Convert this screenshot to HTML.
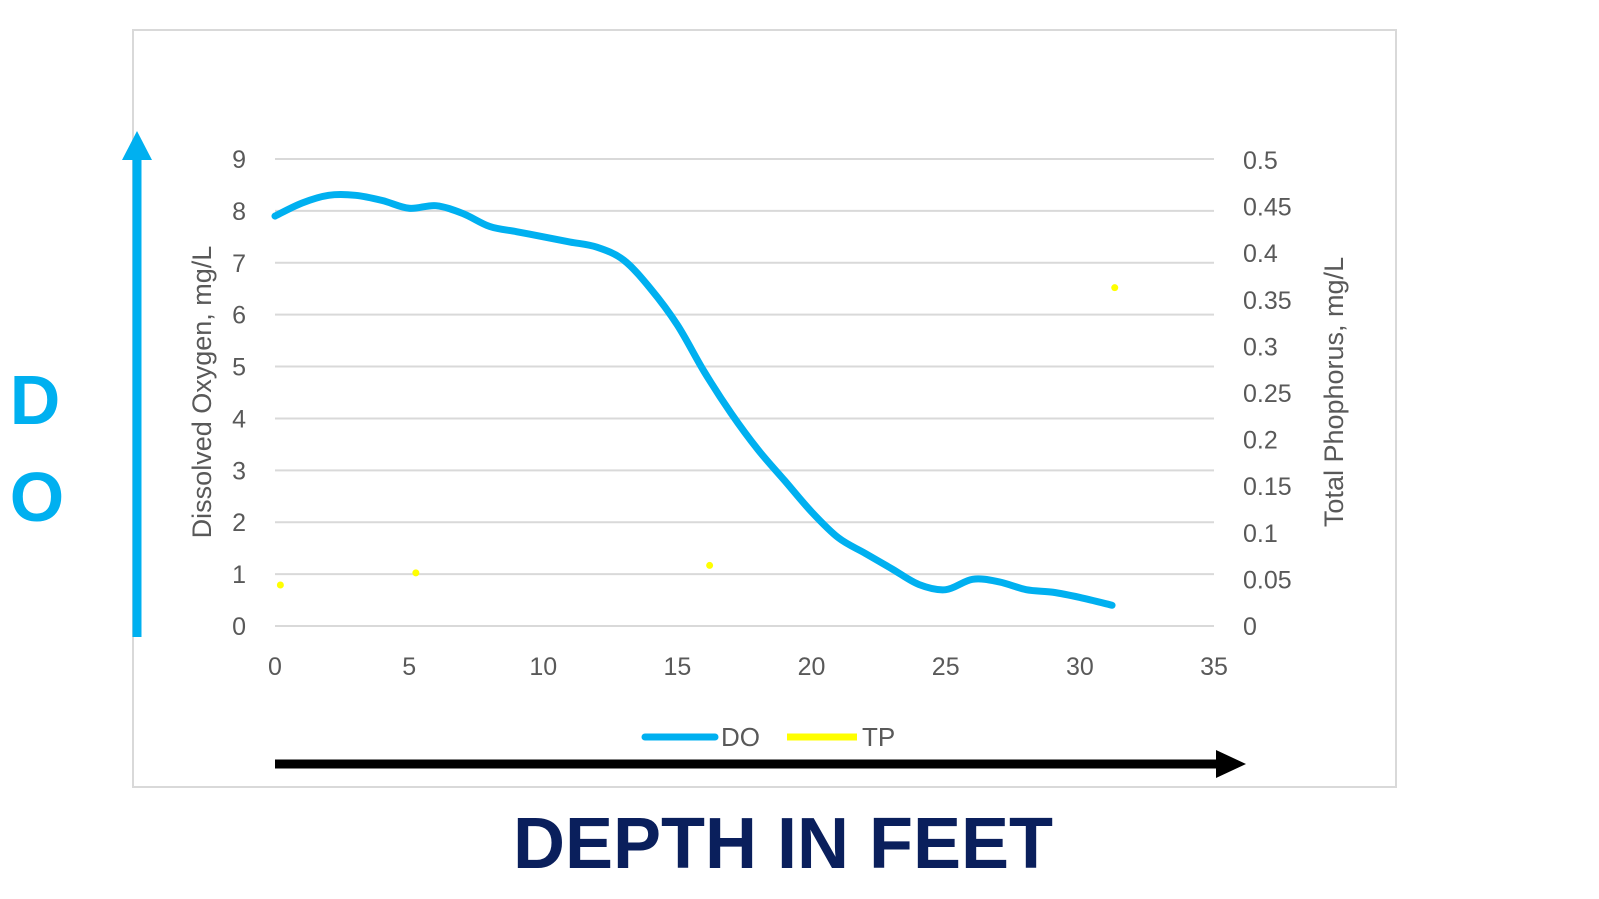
<!DOCTYPE html>
<html><head><meta charset="utf-8"><style>
html,body{margin:0;padding:0;background:#fff;width:1599px;height:899px;overflow:hidden}
svg text{font-family:"Liberation Sans",sans-serif}
</style></head><body>
<svg id="c" width="1599" height="899" viewBox="0 0 1599 899">
<rect x="133" y="30" width="1263" height="757" fill="#fff" stroke="#d9d9d9" stroke-width="2"/>
<g id="grid"></g>
<g id="ticks"></g>
<text transform="translate(211,392) rotate(-90)" text-anchor="middle" font-size="27" fill="#595959">Dissolved Oxygen, mg/L</text>
<text transform="translate(1343,392) rotate(-90)" text-anchor="middle" font-size="27" fill="#595959">Total Phophorus, mg/L</text>
<g id="series"></g>
<g>
<line x1="645" y1="737" x2="715" y2="737" stroke="#00b0f0" stroke-width="7" stroke-linecap="round"/>
<text x="721" y="746" font-size="26" fill="#595959">DO</text>
<line x1="787" y1="737" x2="857" y2="737" stroke="#ffff00" stroke-width="7"/>
<text x="862" y="746" font-size="26" fill="#595959">TP</text>
</g>
<line x1="137" y1="637" x2="137" y2="155" stroke="#00b0f0" stroke-width="9"/>
<polygon points="122,160 152,160 137,131" fill="#00b0f0"/>
<text x="35" y="424" text-anchor="middle" font-size="70" font-weight="bold" fill="#00b0f0">D</text>
<text x="37" y="521" text-anchor="middle" font-size="70" font-weight="bold" fill="#00b0f0">O</text>
<line x1="275" y1="764" x2="1220" y2="764" stroke="#000" stroke-width="9"/>
<polygon points="1216,750 1246,764 1216,778" fill="#000"/>
<text x="783" y="868" text-anchor="middle" font-size="72" font-weight="bold" fill="#0a1f5c">DEPTH IN FEET</text>
</svg>
<script>
const xTicks=[0,5,10,15,20,25,30,35];
const yTicks=[0,1,2,3,4,5,6,7,8,9];
const y2Ticks=["0","0.05","0.1","0.15","0.2","0.25","0.3","0.35","0.4","0.45","0.5"];
const doDepth=[0,1,2,3,4,5,6,7,8,9,10,11,12,13,14,15,16,17,18,19,20,21,22,23,24,25,26,27,28,29,30,31.2];
const doValues=[7.9,8.15,8.3,8.3,8.2,8.05,8.1,7.95,7.7,7.6,7.5,7.4,7.3,7.05,6.5,5.8,4.9,4.1,3.4,2.8,2.2,1.7,1.4,1.1,0.8,0.7,0.9,0.85,0.7,0.65,0.55,0.4];
const tpDepth=[0.2,5.25,16.2,31.3];
const tpValues=[0.044,0.057,0.065,0.363];
const X=v=>275+(v/35)*939;
const Y=v=>626-(v/9)*467;
const Y2=v=>626-(v/0.5)*466;
const NS="http://www.w3.org/2000/svg";
const g=document.getElementById('grid'),t=document.getElementById('ticks'),s=document.getElementById('series');
function mk(tag,a,p){const e=document.createElementNS(NS,tag);for(const k in a)e.setAttribute(k,a[k]);p.appendChild(e);return e;}
yTicks.forEach(v=>{
 const l=mk('line',{x1:275,x2:1214,y1:Y(v),y2:Y(v),stroke:'#d9d9d9','stroke-width':2},g);
 
 
 const tx=mk('text',{x:246,y:Y(v)+9,'text-anchor':'end','font-size':25,fill:'#595959'},t);tx.textContent=v;
 
 
});
y2Ticks.forEach(v=>{
 const tx=mk('text',{x:1243,y:Y2(+v)+9,'font-size':25,fill:'#595959'},t);tx.textContent=v;
 
 
});
xTicks.forEach(v=>{
 const tx=mk('text',{x:X(v),y:675,'text-anchor':'middle','font-size':25,fill:'#595959'},t);tx.textContent=v;
 
 
});
const P=doDepth.map((d,i)=>[X(d),Y(doValues[i])]);
let d='M'+P[0][0]+','+P[0][1];
for(let i=0;i<P.length-1;i++){
 const p0=P[Math.max(0,i-1)],p1=P[i],p2=P[i+1],p3=P[Math.min(P.length-1,i+2)];
 d+=` C${p1[0]+(p2[0]-p0[0])/6},${p1[1]+(p2[1]-p0[1])/6} ${p2[0]-(p3[0]-p1[0])/6},${p2[1]-(p3[1]-p1[1])/6} ${p2[0]},${p2[1]}`;
}
const line=mk('path',{d:d,fill:'none',stroke:'#00b0f0','stroke-width':7,'stroke-linecap':'round'},s);


tpDepth.forEach((dd,i)=>{
 const c=mk('circle',{cx:X(dd),cy:Y2(tpValues[i]),r:3.5,fill:'#ffff00'},s);
 
 
});
</script>
</body></html>
